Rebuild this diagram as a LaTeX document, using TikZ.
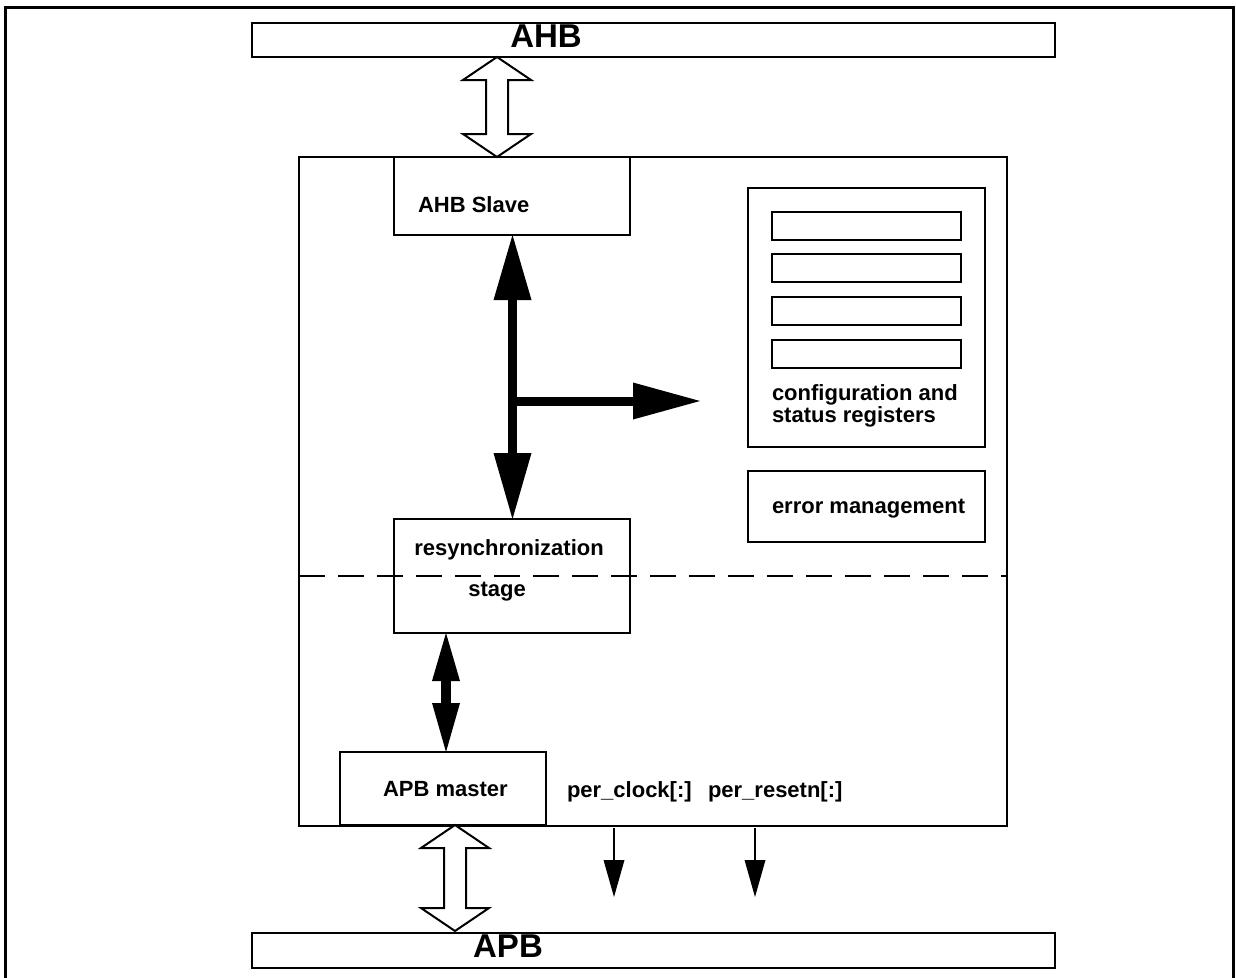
\documentclass[tikz,border=0pt]{standalone}
\usepackage{fontspec}
\setmainfont{Liberation Sans}
\usetikzlibrary{arrows.meta,calc}
\newcommand\hollowbus[2]{%
  \draw[hollow] (#1) -- ($(#1)+(34,23)$) -- ($(#1)+(11,23)$) -- ($(#2)+(11,-23)$) -- ($(#2)+(34,-23)$) -- (#2)
    -- ($(#2)+(-34,-23)$) -- ($(#2)+(-11,-23)$) -- ($(#1)+(-11,23)$) -- ($(#1)+(-34,23)$) -- cycle;}
\begin{document}
\begin{tikzpicture}[x=1pt,y=-1pt,
  box/.style={draw,line width=2pt,inner sep=0pt,outer sep=0pt},
  lbl/.style={font=\fontsize{22}{24}\selectfont\bfseries,inner sep=0pt,outer sep=0pt},
  big/.style={font=\fontsize{33}{36}\selectfont\bfseries,inner sep=0pt,outer sep=0pt},
  hollow/.style={draw,fill=white,line width=2pt,line join=miter},
  fatbus/.style={line width=9pt,{Triangle[length=65pt,width=38pt,line width=0pt]}-{Triangle[length=66pt,width=38pt,line width=0pt]}},
  thinsig/.style={line width=2pt,-{Triangle[length=37pt,width=21pt,line width=0pt]}}]
\useasboundingbox (0,0) rectangle (1236,977);
% outer frame
\draw[line width=3pt] (5,985) -- (5,7) -- (1233,7) -- (1233,985);
% buses
\node[box,minimum width=803pt,minimum height=34pt] (ahb) at (653.5,40) {};
\node[box,minimum width=803pt,minimum height=35pt] (apb) at (653.5,950.5) {};
% main block
\node[box,minimum width=708pt,minimum height=669pt] (main) at (653,491.5) {};
\draw[line width=2pt,dash pattern=on 26pt off 13pt] (main.west |- 0,576) -- (main.east |- 0,576);
% inner blocks
\node[box,fill=white,minimum width=236pt,minimum height=78pt] (slave) at (512,196) {};
\node[box,minimum width=237pt,minimum height=259pt] (cfg) at (866.5,317.5) {};
\node[box,minimum width=189pt,minimum height=28pt] (r1) at (866.5,226) {};
\node[box,minimum width=189pt,minimum height=28pt] (r2) at (866.5,268) {};
\node[box,minimum width=189pt,minimum height=28pt] (r3) at (866.5,311) {};
\node[box,minimum width=189pt,minimum height=28pt] (r4) at (866.5,354) {};
\node[box,minimum width=237pt,minimum height=71pt] (err) at (866.5,506.5) {};
\node[box,minimum width=236pt,minimum height=114pt] (resync) at (512,576) {};
\node[box,fill=white,minimum width=206pt,minimum height=73pt] (apbm) at (443,788.5) {};
% labels
\node[big,anchor=base] (tahb) at (546,47) {AHB};
\node[lbl,anchor=base west] (tslave) at (418,212) {AHB Slave};
\node[lbl,anchor=base west] (tcfg1) at (772,400) {configuration and};
\node[lbl,anchor=base west] (tcfg2) at (772,422) {status registers};
\node[lbl,anchor=base west] (terr) at (772,513) {error management};
\node[lbl,anchor=base] (trs1) at (509,555) {resynchronization};
\node[lbl,anchor=base] (trs2) at (497,596) {stage};
\node[lbl,anchor=base west] (tapbm) at (383,796) {APB master};
\node[lbl,anchor=base west] (tclk) at (567,797) {per\_clock[:]};
\node[lbl,anchor=base west] (trst) at (708,797) {per\_resetn[:]};
% hollow bus arrows
\coordinate (ah1) at (497,57);
\coordinate (ah2) at (497,157);
\hollowbus{ah1}{ah2}
\coordinate (ap1) at (455,825);
\coordinate (ap2) at (455,931);
\hollowbus{ap1}{ap2}
\node[big,anchor=base] (tapb) at (508,957) {APB};
% thick internal bus
\coordinate (bx) at (512.5,401);
\coordinate (regin) at (700,401);
\draw[fatbus] (slave.south -| bx) -- (resync.north -| bx);
\draw[line width=9pt,-{Triangle[length=67pt,width=37pt,line width=0pt]}] (bx) -- (regin);
\coordinate (rx) at (446,700);
\draw[line width=10pt,{Triangle[length=48pt,width=28pt,line width=0pt]}-{Triangle[length=49pt,width=28pt,line width=0pt]}] (resync.south -| rx) -- (apbm.north -| rx);
% clock / reset outputs
\coordinate (ck1) at (614,828);
\coordinate (ck2) at (614,897);
\coordinate (rs1) at (755,828);
\coordinate (rs2) at (755,897);
\draw[thinsig] (ck1) -- (ck2);
\draw[thinsig] (rs1) -- (rs2);
\end{tikzpicture}
\end{document}
